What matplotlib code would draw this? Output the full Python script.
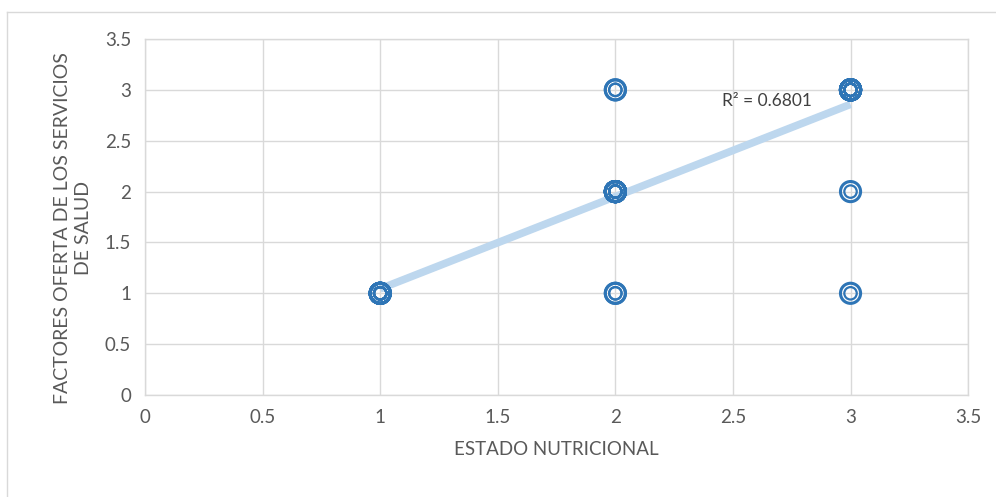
import numpy as np
import matplotlib.pyplot as plt
from matplotlib.lines import Line2D

# puntos (x, y) y cuantas veces se repite cada uno
x_pts = [1, 2, 2, 2, 3, 3, 3]
y_pts = [1, 1, 2, 3, 1, 2, 3]
counts = [10, 2, 14, 2, 1, 1, 16]
r2_label = "R² = 0.6801"

x = np.repeat(x_pts, counts).astype(float)
y = np.repeat(y_pts, counts).astype(float)

blue = '#2E75B6'
trend = '#BDD7EE'
txt = '#595959'
gridc = '#D9D9D9'

plt.rcParams['font.family'] = ['Lato', 'DejaVu Sans']

fig = plt.figure(figsize=(9.96, 4.97), dpi=100)
ax = fig.add_axes([0.1456, 0.2052, 0.972 - 0.1456, 0.9215 - 0.2052])

# linea de tendencia
m, b = np.polyfit(x, y, 1)
xl = np.array([x.min(), x.max()])
ax.plot(xl, m * xl + b, color=trend, lw=5.5, solid_capstyle='butt', zorder=2)

# marcadores (anillo exterior + interior)
ax.scatter(x, y, s=210, facecolors='none', edgecolors=blue, linewidths=2.2, zorder=3)
ax.scatter(x, y, s=80, facecolors='none', edgecolors=blue, linewidths=1.6, zorder=3)

ax.text(2.455, 2.89, r2_label, fontsize=12.5, color='#404040', va='center', ha='left', zorder=4)

ax.set_xlim(0, 3.5)
ax.set_ylim(0, 3.5)
ax.set_xticks(np.arange(0, 3.51, 0.5))
ax.set_yticks(np.arange(0, 3.51, 0.5))
ax.set_xticklabels(['0', '0.5', '1', '1.5', '2', '2.5', '3', '3.5'])
ax.set_yticklabels(['0', '0.5', '1', '1.5', '2', '2.5', '3', '3.5'])
ax.tick_params(length=0, labelsize=13.5, labelcolor=txt, pad=10)
ax.grid(True, color=gridc, lw=1)
ax.set_axisbelow(True)
for s in ax.spines.values():
    s.set_color(gridc)
    s.set_linewidth(1)

ax.set_xlabel('ESTADO NUTRICIONAL', fontsize=13.5, color=txt, labelpad=11)
ax.set_ylabel('FACTORES OFERTA DE LOS SERVICIOS\nDE SALUD', fontsize=14, color=txt,
              linespacing=1.3)
ax.yaxis.set_label_coords(-0.064, 0.47)

# borde exterior del grafico (solo se ven izquierda y arriba)
fig.add_artist(Line2D([0.007, 0.007], [0, 1 - 12 / 497], transform=fig.transFigure, color=gridc, lw=1))
fig.add_artist(Line2D([0.007, 1], [1 - 12 / 497, 1 - 12 / 497], transform=fig.transFigure, color=gridc, lw=1))

fig.savefig('out.png', dpi=100)
